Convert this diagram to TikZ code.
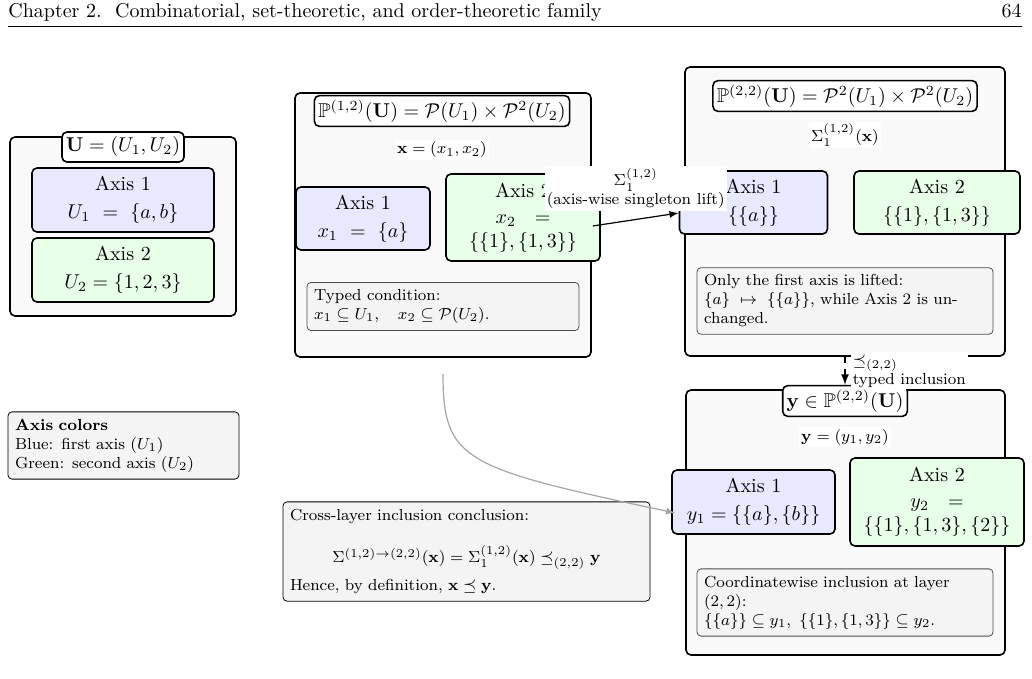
\documentclass[tikz,border=0pt]{standalone}
\usepackage{amssymb}
\usepackage{amsmath}
\usepackage{tikz}
\usetikzlibrary{positioning}
\usetikzlibrary{arrows}

\begin{document}
\begin{tikzpicture}[
        x=0.5pt, y=-0.5pt,
        layerbox/.style={rectangle, rounded corners=2.5pt, draw, thick, fill=gray!5},
        heading/.style={rectangle, rounded corners=2.5pt, draw, thick, fill=white, inner sep=2pt, minimum height=15pt},
        axisone/.style={rectangle, rounded corners=2.5pt, draw, thick, fill=blue!9, align=center, inner sep=1pt},
        axistwo/.style={rectangle, rounded corners=2.5pt, draw, thick, fill=green!9, align=center, inner sep=1pt},
        note/.style={rectangle, rounded corners=2pt, draw=black!70, fill=gray!9, font=\footnotesize, align=left, inner sep=3.5pt},
        tag/.style={fill=white, font=\footnotesize, inner sep=1pt}
    ]
    \useasboundingbox (0,0) rectangle (1032,679);

    % Page header
    \node[anchor=base west, inner sep=0] (chap) at (8,18) {Chapter 2.\ \ Combinatorial, set-theoretic, and order-theoretic family};
    \node[anchor=base east, inner sep=0] (page) at (1022,18) {64};
    \draw[line width=0.5pt] (8,27) -- (1022,27);

    % Base axes U
    \node[layerbox, minimum width=113pt, minimum height=89.5pt] (base) at (123,226.5) {};
    \node[heading] (basetitle) at (123,147) {$\mathbf{U}=(U_1,U_2)$};
    \node[axisone, minimum width=91pt, minimum height=32pt] (baseone) at (123,200) {Axis 1\\[2pt] $U_1\ =\ \{a,b\}$};
    \node[axistwo, minimum width=91pt, minimum height=32pt] (basetwo) at (123,270) {Axis 2\\[2pt] $U_2 = \{1,2,3\}$};

    % Layer (1,2)
    \node[layerbox, minimum width=148pt, minimum height=132pt] (layerA) at (443,225) {};
    \node[heading] (titleA) at (442,111) {$\mathbb{P}^{(1,2)}(\mathbf{U})=\mathcal{P}(U_1)\times\mathcal{P}^2(U_2)$};
    \node[tag] (xlabel) at (442,150) {$\mathbf{x}=(x_1,x_2)$};
    \node[axisone, minimum width=67pt, minimum height=31.5pt] (xone) at (363,218.5) {Axis 1\\[2pt] $x_1\ =\ \{a\}$};
    \node[axistwo, minimum width=77pt, minimum height=43.5pt] (xtwo) at (523,217.5) {Axis 2\\[1pt] $x_2\ \ =$\\ $\{\{1\},\{1,3\}\}$};
    \node[note, text width=129pt, minimum height=21.5pt] (typed) at (443,306.5) {Typed condition:\\ $x_1\subseteq U_1,\quad x_2\subseteq\mathcal{P}(U_2)$.};

    % Layer (2,2)
    \node[layerbox, minimum width=160pt, minimum height=144.5pt] (layerB) at (845,211.5) {};
    \node[heading] (titleB) at (845,96) {$\mathbb{P}^{(2,2)}(\mathbf{U})=\mathcal{P}^2(U_1)\times\mathcal{P}^2(U_2)$};
    \node[tag] (siglabel) at (845,135) {$\Sigma_1^{(1,2)}(\mathbf{x})$};
    \node[axisone, minimum width=74pt, minimum height=31.5pt] (lone) at (753.5,202.5) {Axis 1\\[2pt] $\{\{a\}\}$};
    \node[axistwo, minimum width=83pt, minimum height=31.5pt] (ltwo) at (937,202.5) {Axis 2\\[2pt] $\{\{1\},\{1,3\}\}$};
    \node[note, text width=141pt, minimum height=30pt] (lifted) at (845,301) {Only the first axis is lifted:\\ $\{a\}\ \mapsto\ \{\{a\}\}$, while Axis 2 is un-\\changed.};

    % Target element y
    \node[layerbox, minimum width=159.5pt, minimum height=132.5pt] (target) at (845.5,522.5) {};
    \node[heading] (titleY) at (845,401) {$\mathbf{y}\in\mathbb{P}^{(2,2)}(\mathbf{U})$};
    \node[tag] (ylabel) at (845,437) {$\mathbf{y}=(y_1,y_2)$};
    \node[axisone, minimum width=81.5pt, minimum height=32pt] (yone) at (753.5,502) {Axis 1\\[2pt] $y_1=\{\{a\},\{b\}\}$};
    \node[axistwo, minimum width=87pt, minimum height=44pt] (ytwo) at (937,502) {Axis 2\\[1pt] $y_2\ \ =$\\ $\{\{1\},\{1,3\},\{2\}\}$};
    \node[note, text width=141pt, minimum height=30.5pt] (coord) at (845,602.5) {Coordinatewise inclusion at layer\\ $(2,2)$:\\ $\{\{a\}\}\subseteq y_1,\ \{\{1\},\{1,3\}\}\subseteq y_2$.};

    % Legend
    \node[note, draw=black, text width=108.5pt, minimum height=31.5pt] (legend) at (123.5,445.5) {\textbf{Axis colors}\\ Blue: first axis ($U_1$)\\ Green: second axis ($U_2$)};

    % Conclusion
    \node[note, draw=black, text width=176.5pt, minimum height=48.5pt] (concl) at (466.5,551.5) {Cross-layer inclusion conclusion:\\[10pt]
        \makebox[\linewidth]{$\Sigma^{(1,2)\to(2,2)}(\mathbf{x})=\Sigma_1^{(1,2)}(\mathbf{x})\preceq_{(2,2)}\mathbf{y}$}\\[4.5pt]
        Hence, by definition, $\mathbf{x}\preceq\mathbf{y}$.};

    % Connections
    \draw[black!35, semithick, -latex, shorten <=8pt] (layerA.south) .. controls +(0,103) and +(-212,-45) .. ([xshift=2pt,yshift=-5.5pt]yone.west);
    \draw[thick, dashed, -latex] (layerB.south) -- (titleY.north)
        node[tag, midway, right=2.5pt, align=left] (incllabel) {$\preceq_{(2,2)}$\\typed inclusion};
    \draw[semithick, -latex] ([xshift=-4pt,yshift=-4.25pt]xtwo.east) -- ([yshift=-5.25pt]lone.west)
        node[tag, midway, above=4pt, align=center] (liftlabel) {$\Sigma_1^{(1,2)}$\\(axis-wise singleton lift)};

\end{tikzpicture}
\end{document}
